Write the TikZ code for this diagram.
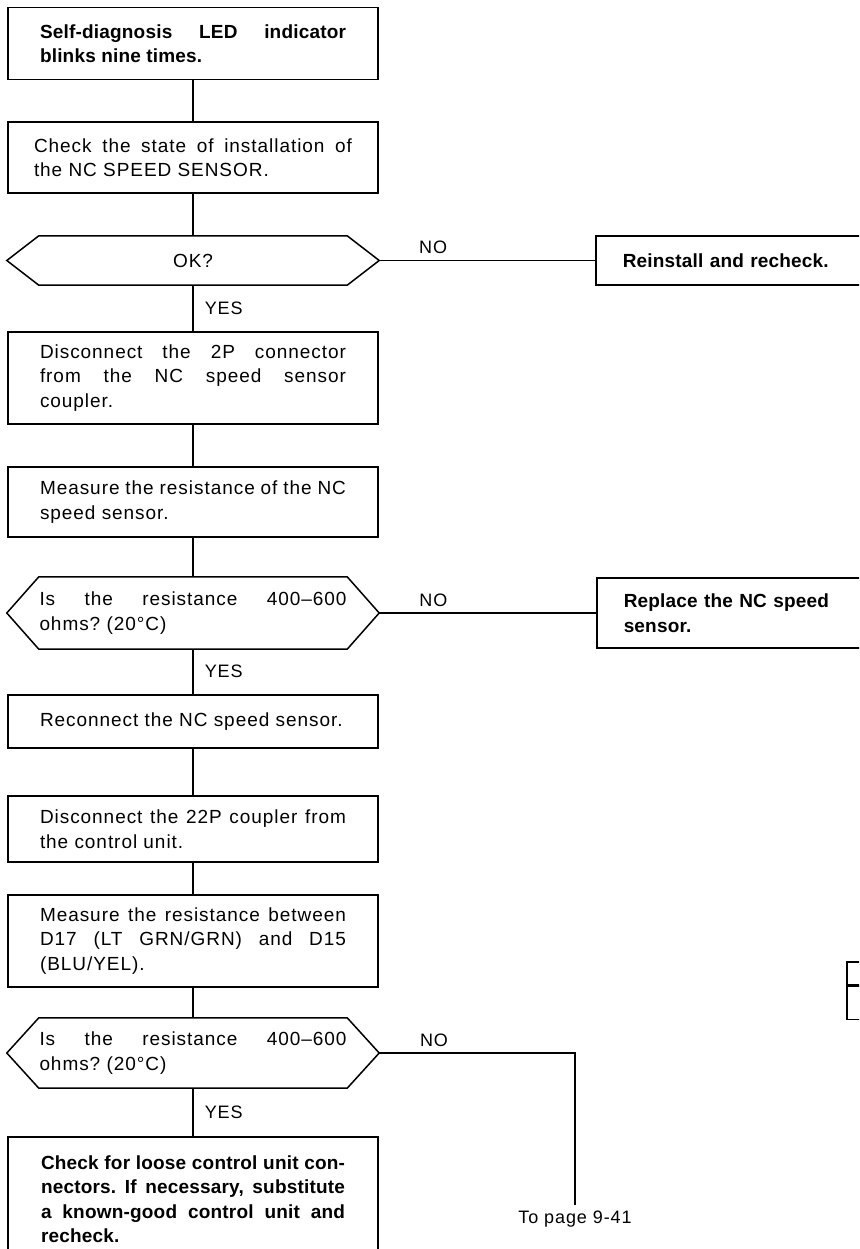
\documentclass[tikz,border=0pt]{standalone}
\usepackage{fontspec}
\setmainfont{Liberation Sans}[LetterSpace=5,BoldFeatures={LetterSpace=1}]
\usepackage{tikz}

\hyphenpenalty=10000
\exhyphenpenalty=10000
\hbadness=10000
\frenchspacing

\newcommand{\flowfont}{\fontsize{19}{24.5}\selectfont}
\newcommand{\tagfont}{\fontsize{18}{22}\selectfont}

% six-sided outline round a question node
\newcommand{\hexframe}[1]{%
  \draw[flow] (#1.west) -- ([xshift=32pt]#1.north west) -- ([xshift=-32pt]#1.north east)
    -- (#1.east) -- ([xshift=-32pt]#1.south east) -- ([xshift=32pt]#1.south west) -- cycle;}

\begin{document}
\begin{tikzpicture}[x=1pt,y=-1pt,
  flow/.style={line width=1.5pt},
  stepbox/.style={draw, line width=1.5pt, font=\flowfont, minimum width=370pt, text width=306pt, align=justify, inner sep=0pt},
  boldstep/.style={stepbox, font=\flowfont\bfseries},
  querybox/.style={font=\flowfont, minimum width=372pt, text width=307pt, align=justify, inner sep=0pt},
  sidebox/.style={draw, line width=1.5pt, anchor=west, font=\flowfont\bfseries, text width=240pt, align=left, inner xsep=27pt, inner ysep=0pt},
  tabbox/.style={draw, line width=1.5pt, anchor=north west, minimum width=40pt, inner sep=0pt},
  yeslbl/.style={midway, right=11pt, font=\tagfont, inner sep=0pt},
  nolbl/.style={above=6pt, font=\tagfont, inner sep=0pt},
  pagelbl/.style={font=\tagfont, inner sep=3pt}]
\useasboundingbox (0,0) rectangle (859,1249);
\clip (0,0) rectangle (859,1249);

% main column
\node[boldstep, minimum height=72pt] (ledblink) at (193,43.5) {Self-diagnosis LED indicator\linebreak blinks nine times.};
\node[stepbox, text width=318pt, minimum height=71pt] (chkinst) at (193,157.5) {Check the state of installation of\linebreak the NC SPEED SENSOR.};
\node[querybox, align=center, minimum height=49pt] (okq) at (193,260.5) {OK?};
\hexframe{okq}
\node[stepbox, minimum height=92pt] (discon2p) at (193,378) {Disconnect the 2P connector\linebreak from the NC speed sensor\linebreak coupler.};
\node[stepbox, minimum height=70pt] (measns) at (193,502) {Measure the resistance of the NC\linebreak speed sensor.};
\node[querybox, minimum height=72pt] (resq1) at (193,613) {Is the resistance 400--600\linebreak ohms? (20°C)};
\hexframe{resq1}
\node[stepbox, minimum height=53pt] (reconn) at (193,721.5) {Reconnect the NC speed sensor.};
\node[stepbox, minimum height=66pt] (discon22p) at (193,829) {Disconnect the 22P coupler from\linebreak the control unit.};
\node[stepbox, minimum height=92pt] (measd) at (193,941) {Measure the resistance between\linebreak D17 (LT GRN/GRN) and D15\linebreak (BLU/YEL).};
\node[querybox, minimum height=70pt] (resq2) at (193,1053) {Is the resistance 400--600\linebreak ohms? (20°C)};
\hexframe{resq2}
\node[boldstep, text width=304pt, minimum height=124pt] (chkloose) at (193,1199) {Check for loose control unit con-\linebreak nectors. If necessary, substitute\linebreak a known-good control unit and\linebreak recheck.};

% right column
\node[sidebox, minimum height=49pt] (reinst) at (595,260.5) {Reinstall and recheck.};
\node[sidebox, minimum height=70pt] (replns) at (596,613) {Replace the NC speed\\sensor.};

% pair of boxes at the right edge
\node[tabbox, minimum height=23pt] (tabhi) at (846,961) {};
\node[tabbox, minimum height=33pt] (tablo) at (tabhi.south west) {};

\node[pagelbl] (topage) at (575,1219) {To page 9-41};

% connectors
\draw[flow] (ledblink) -- (chkinst);
\draw[flow] (chkinst) -- (okq);
\draw[flow] (okq) -- node[nolbl, pos=0.25] {NO} (reinst);
\draw[flow] (okq) -- node[yeslbl] {YES} (discon2p);
\draw[flow] (discon2p) -- (measns);
\draw[flow] (measns) -- (resq1);
\draw[flow] (resq1) -- node[nolbl, pos=0.25] {NO} (replns);
\draw[flow] (resq1) -- node[yeslbl] {YES} (reconn);
\draw[flow] (reconn) -- (discon22p);
\draw[flow] (discon22p) -- (measd);
\draw[flow] (measd) -- (resq2);
\draw[flow, shorten >=3pt] (resq2) -| node[nolbl, pos=0.14] {NO} (topage);
\draw[flow] (resq2) -- node[yeslbl] {YES} (chkloose);
\end{tikzpicture}
\end{document}
